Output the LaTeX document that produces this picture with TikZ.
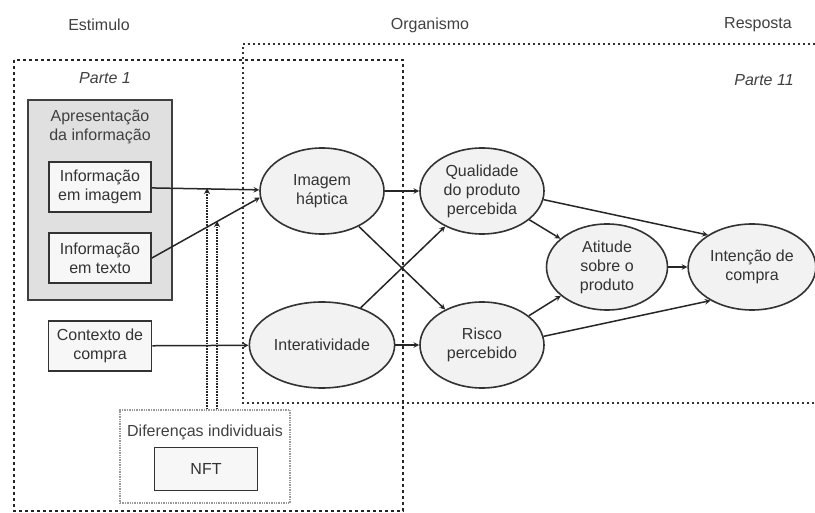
\documentclass[tikz,border=0pt]{standalone}
\usepackage{fontspec}
\setmainfont{Liberation Sans}
\usetikzlibrary{shapes.geometric, arrows}
\tikzstyle{box} = [rectangle, minimum width=102pt, minimum height=50pt, align=center, draw=black!80, line width=1.8pt, fill=black!3, text=black!80, font=\fontsize{16}{19}\selectfont]
\tikzstyle{construct} = [ellipse, minimum width=124pt, minimum height=86pt, align=center, draw=black!80, line width=1.6pt, fill=black!5, text=black!80, font=\fontsize{16}{19}\selectfont]
\tikzstyle{groupbox} = [rectangle, draw=black!75, line width=1.8pt, fill=black!12]
\tikzstyle{dotbox} = [rectangle, draw=black!40, line width=1.4pt, densely dotted]
\tikzstyle{heading} = [text=black!75, align=center, font=\fontsize{16}{19}\selectfont]
\tikzstyle{part} = [text=black!75, font=\fontsize{16}{19}\selectfont\itshape]
\tikzstyle{arrow} = [line width=1.5pt, draw=black!85, ->, >=stealth]
\tikzstyle{modarrow} = [arrow, line width=1.7pt, densely dotted]
\tikzstyle{stagebox} = [dash pattern=on 3pt off 3pt, line width=2.6pt, draw=black!85]
\tikzstyle{organismbox} = [dash pattern=on 2pt off 3pt, line width=1.8pt, draw=black!80]

\begin{document}
\begin{tikzpicture}[x=1pt, y=-1pt, node distance=160pt]

	\useasboundingbox (0,0) rectangle (815,513);

	\draw [organismbox] (815,44) -- (243,44) -- (243,403) -- (815,403);
	\draw [stagebox] (14,60) rectangle (403,511);

	\node (estimulo) [heading] at (99,25) {Estimulo};
	\node (organismo) [heading] at (430,25) {Organismo};
	\node (resposta) [heading] at (758,25) {Resposta};
	\node (parte1) [part] at (105,78) {Parte 1};
	\node (parte2) [part] at (764,80) {Parte 11};

	\node (apresentacao) [groupbox, minimum width=144pt, minimum height=200pt] at (100,200) {};
	\node (apresentacaotxt) [heading, below, yshift=-7pt] at (apresentacao.north) {Apresentação\\da informação};
	\node (imagem) [box] at (100,187) {Informação\\em imagem};
	\node (texto) [box] at (100,258) {Informação\\em texto};
	\node (contexto) [box, minimum width=103pt] at (100,346) {Contexto de\\compra};

	\node (diferencas) [dotbox, minimum width=170pt, minimum height=93pt] at (205,456.5) {};
	\node (diferencastxt) [heading] at (205,432) {Diferenças individuais};
	\node (nft) [box, minimum width=103pt, minimum height=43pt] at (206,469) {NFT};

	\node (haptica) [construct] at (322,191) {Imagem\\háptica};
	\node (inter) [construct, below of=haptica, yshift=6pt] {Interatividade};
	\node (qualidade) [construct, right of=haptica] {Qualidade\\do produto\\percebida};
	\node (risco) [construct, below of=qualidade, yshift=6pt] {Risco\\percebido};
	\node (atitude) [construct, minimum width=121pt] at (607,267) {Atitude\\sobre o\\produto};
	\node (intencao) [construct, minimum width=121pt, right of=atitude, xshift=-15pt] {Intenção de\\compra};

	\coordinate (modimagem) at (207,188);
	\coordinate (modtexto) at (217,221);

	\draw [arrow] (imagem) -- (haptica);
	\draw [arrow] (texto.east) -- (haptica.186);
	\draw [arrow] (contexto) -- (inter);
	\draw [arrow] (haptica) -- (qualidade);
	\draw [arrow] (haptica) -- (risco);
	\draw [arrow] (inter) -- (qualidade);
	\draw [arrow] (inter) -- (risco);
	\draw [arrow] (qualidade) -- (atitude);
	\draw [arrow] (risco) -- (atitude);
	\draw [arrow] (qualidade.-8) -- (intencao.144);
	\draw [arrow] (risco.8) -- (intencao.219);
	\draw [arrow] (atitude) -- (intencao);
	\draw [modarrow] (modimagem |- diferencas.north) -- (modimagem);
	\draw [modarrow] (modtexto |- diferencas.north) -- (modtexto);

\end{tikzpicture}
\end{document}
